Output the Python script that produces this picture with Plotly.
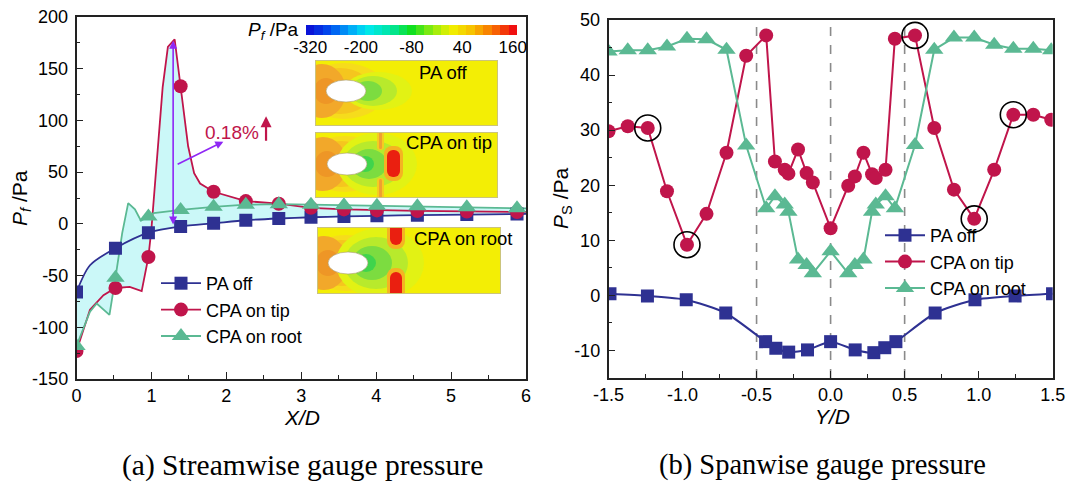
import base64
import numpy as np
import plotly.graph_objects as go

W, H = 1072, 487
FONT = "Liberation Sans, Arial, sans-serif"
SERIF = "Liberation Serif, Times New Roman, serif"

BLUE = "#2e3192"
RED = "#c0154b"
GREEN = "#5bb993"
FILL = "#cbf8f8"
PURPLE = "#8f27f5"

# ---------------- (a) streamwise data ----------------
stream_x = [0, 0.52, 0.96, 1.39, 1.83, 2.26, 2.70, 3.13, 3.57, 4.01, 4.55, 5.21, 5.88]
paoff_s = [-66, -23.5, -8.5, -2.5, 0.5, 3.5, 5.2, 6.4, 7.2, 7.8, 8.4, 9.0, 9.5]
tip_s = [-123, -62, -32, 133, 31, 22, 19.5, 15.5, 14, 13, 12.5, 12, 11.5]
root_s = [-118, -52, 7, 13.5, 16.5, 18.5, 19, 18.5, 18, 17.5, 17, 16, 15]

paoff_line_x = [0, 0.18, 0.52, 0.96, 1.39, 1.83, 2.26, 2.70, 3.13, 3.57, 4.01, 4.55, 5.21, 5.88, 6.0]
paoff_line_y = [-66, -40, -23.5, -8.5, -2.5, 0.5, 3.5, 5.2, 6.4, 7.2, 7.8, 8.4, 9.0, 9.5, 9.6]
tip_line_x = [0, 0.18, 0.36, 0.52, 0.71, 0.87, 0.96, 1.0, 1.15, 1.22, 1.31, 1.39, 1.49, 1.57,
              1.65, 1.83, 2.26, 2.70, 3.13, 3.57, 4.01, 4.55, 5.21, 5.88, 6.0]
tip_line_y = [-123, -83, -69, -62, -61, -65, -32, -5, 132, 171, 178.5, 133, 75, 49,
              39, 31, 22, 19.5, 15.5, 14, 13, 12.5, 12, 11.5, 11.5]
root_line_x = [0, 0.18, 0.27, 0.44, 0.52, 0.61, 0.69, 0.78, 0.86, 0.96, 1.03, 1.39, 1.83,
               2.26, 2.70, 3.13, 3.57, 4.01, 4.55, 5.21, 5.88, 6.0]
root_line_y = [-118, -85, -77, -88, -52, -9, 20, 14, 3, 7, 10.5, 13.5, 16.5,
               18.5, 19, 18.5, 18, 17.5, 17, 16, 15, 15]

# ---------------- (b) spanwise data ----------------
span_x = [-1.50, -1.37, -1.235, -1.105, -0.97, -0.838, -0.703, -0.57, -0.435, -0.376, -0.31,
          -0.285, -0.22, -0.162, -0.12, 0.0, 0.119, 0.164, 0.222, 0.28, 0.305, 0.371, 0.434,
          0.57, 0.70, 0.833, 0.97, 1.105, 1.234, 1.369, 1.49]
tip_span = [29.8, 30.7, 30.4, 18.9, 9.2, 14.8, 25.9, 43.5, 47.2, 24.3, 22.8,
            22.1, 26.5, 22.2, 20.5, 12.2, 19.9, 21.6, 25.9, 22.0, 21.3, 22.8, 46.6,
            47.2, 30.4, 19.2, 13.9, 22.8, 32.8, 32.8, 31.9]
root_span = [44.3, 44.5, 44.5, 45.2, 46.6, 46.5, 44.6, 27.2, 15.8, 18.0, 16.5,
             15.2, 6.5, 5.5, 4.0, 8.0, 4.0, 5.5, 6.5, 15.2, 16.5, 18.0, 15.8,
             27.3, 44.6, 46.8, 46.8, 45.5, 44.8, 44.8, 44.5]
span_x_off = [-1.49, -1.237, -0.975, -0.708, -0.439, -0.37, -0.283, -0.156, 0.0,
              0.166, 0.292, 0.366, 0.441, 0.706, 0.975, 1.246, 1.499]
paoff_span = [0.3, -0.1, -0.8, -3.2, -8.4, -9.6, -10.3, -9.9, -8.4,
              -9.9, -10.4, -9.5, -8.4, -3.2, -0.8, -0.1, 0.3]
circled_idx = [2, 4, 23, 26, 28]
divider_y = [-0.5, 0.0, 0.5]

# tick labels
xa_vals = [0, 1, 2, 3, 4, 5, 6]
xa_text = ["0", "1", "2", "3", "4", "5", "6"]
ya_vals = [-150, -100, -50, 0, 50, 100, 150, 200]
ya_text = ["-150", "-100", "-50", "0", "50", "100", "150", "200"]
xb_vals = [-1.5, -1.0, -0.5, 0.0, 0.5, 1.0, 1.5]
xb_text = ["-1.5", "-1.0", "-0.5", "0.0", "0.5", "1.0", "1.5"]
yb_vals = [-10, 0, 10, 20, 30, 40, 50]
yb_text = ["-10", "0", "10", "20", "30", "40", "50"]
cbar_levels = [-320, -300, -280, -260, -240, -220, -200, -180, -160, -140, -120, -100, -80,
               -60, -40, -20, 0, 20, 40, 60, 80, 100, 120, 140, 160]
cbar_ticks = [-320, -200, -80, 40, 160]
cbar_text = ["-320", "-200", "-80", "40", "160"]


def pxx(x):
    return x / W


def pyy(y):
    return 1 - y / H


fig = go.Figure()

# envelope fill (between max and min of the three curves)
grid = np.linspace(0, 6, 1201)
c1 = np.interp(grid, paoff_line_x, paoff_line_y)
c2 = np.interp(grid, tip_line_x, tip_line_y)
c3 = np.interp(grid, root_line_x, root_line_y)
upper = np.maximum(np.maximum(c1, c2), c3)
lower = np.minimum(np.minimum(c1, c2), c3)
fig.add_trace(go.Scatter(x=np.concatenate([grid, grid[::-1]]),
                         y=np.concatenate([upper, lower[::-1]]),
                         fill="toself", fillcolor=FILL, line=dict(width=0),
                         mode="lines", showlegend=False, hoverinfo="skip",
                         xaxis="x", yaxis="y"))

# lines (a)
fig.add_trace(go.Scatter(x=paoff_line_x, y=paoff_line_y, mode="lines",
                         line=dict(color=BLUE, width=1.8, shape="spline", smoothing=0.8),
                         showlegend=False, xaxis="x", yaxis="y"))
fig.add_trace(go.Scatter(x=tip_line_x, y=tip_line_y, mode="lines",
                         line=dict(color=RED, width=1.8), showlegend=False, xaxis="x", yaxis="y"))
fig.add_trace(go.Scatter(x=root_line_x, y=root_line_y, mode="lines",
                         line=dict(color=GREEN, width=1.8), showlegend=False, xaxis="x", yaxis="y"))
# markers (a)
fig.add_trace(go.Scatter(x=stream_x, y=paoff_s, mode="markers",
                         marker=dict(symbol="square", size=13, color=BLUE),
                         showlegend=False, xaxis="x", yaxis="y"))
fig.add_trace(go.Scatter(x=stream_x, y=tip_s, mode="markers",
                         marker=dict(symbol="circle", size=14, color=RED),
                         showlegend=False, xaxis="x", yaxis="y"))
fig.add_trace(go.Scatter(x=stream_x, y=root_s, mode="markers",
                         marker=dict(symbol="triangle-up", size=16, color=GREEN),
                         showlegend=False, xaxis="x", yaxis="y"))
# legend entries (a)
for name, col, sym, sz in [("PA off", BLUE, "square", 13), ("CPA on tip", RED, "circle", 14),
                           ("CPA on root", GREEN, "triangle-up", 16)]:
    fig.add_trace(go.Scatter(x=[None], y=[None], mode="lines+markers", name=name,
                             line=dict(color=col, width=1.8),
                             marker=dict(symbol=sym, size=sz, color=col),
                             legend="legend", xaxis="x", yaxis="y"))

# (b) traces
fig.add_trace(go.Scatter(x=span_x_off, y=paoff_span, mode="lines+markers", name="PA off",
                         line=dict(color=BLUE, width=2, shape="spline", smoothing=0.6),
                         marker=dict(symbol="square", size=13, color=BLUE),
                         legend="legend2", xaxis="x2", yaxis="y2"))
fig.add_trace(go.Scatter(x=span_x, y=tip_span, mode="lines+markers", name="CPA on tip",
                         line=dict(color=RED, width=2),
                         marker=dict(symbol="circle", size=14, color=RED),
                         legend="legend2", xaxis="x2", yaxis="y2"))
fig.add_trace(go.Scatter(x=span_x, y=root_span, mode="lines+markers", name="CPA on root",
                         line=dict(color=GREEN, width=2),
                         marker=dict(symbol="triangle-up", size=16, color=GREEN),
                         legend="legend2", xaxis="x2", yaxis="y2"))
fig.add_trace(go.Scatter(x=[span_x[i] for i in circled_idx], y=[tip_span[i] for i in circled_idx],
                         mode="markers", showlegend=False,
                         marker=dict(symbol="circle-open", size=26, color="black",
                                     line=dict(width=1.6, color="black")),
                         xaxis="x2", yaxis="y2"))

# colorbar strip
cs = [[0, "#0a14d8"], [0.1, "#0050f0"], [0.2, "#00a8f8"], [0.28, "#00e8f0"], [0.4, "#00e6a0"],
      [0.5, "#10e020"], [0.6, "#90ec10"], [0.7, "#f0f000"], [0.8, "#f8c000"], [0.9, "#f87000"],
      [1, "#f01010"]]
fig.add_trace(go.Heatmap(z=[cbar_levels], x=cbar_levels, y=[0], colorscale=cs, zmin=-320, zmax=160,
                         showscale=False, hoverinfo="skip", xaxis="x3", yaxis="y3"))

axis_common = dict(showline=True, mirror=True, linecolor="#222", linewidth=1.5, ticks="inside",
                   ticklen=7, tickwidth=1.3, tickcolor="#222", showgrid=False, zeroline=False,
                   tickfont=dict(family=FONT, size=18, color="black"), automargin=False)

fig.update_layout(
    width=W, height=H, margin=dict(l=0, r=0, t=0, b=0),
    paper_bgcolor="white", plot_bgcolor="rgba(0,0,0,0)",
    font=dict(family=FONT, color="black"),
    xaxis=dict(domain=[pxx(76.5), pxx(526)], range=[0, 6], tickvals=xa_vals, ticktext=xa_text,
               minor=dict(dtick=0.5, ticks="inside", ticklen=4, tickcolor="#222"), anchor="y",
               **axis_common),
    yaxis=dict(domain=[pyy(379), pyy(17)], range=[-150, 200], tickvals=ya_vals, ticktext=ya_text,
               minor=dict(dtick=25, ticks="inside", ticklen=4, tickcolor="#222"), anchor="x",
               ticklabelstandoff=3, **axis_common),
    xaxis2=dict(domain=[pxx(608.5), pxx(1052.7)], range=[-1.5, 1.5], tickvals=xb_vals,
                ticktext=xb_text, minor=dict(dtick=0.25, ticks="inside", ticklen=4, tickcolor="#222"),
                anchor="y2", **axis_common),
    yaxis2=dict(domain=[pyy(378), pyy(20)], range=[-15, 50], tickvals=yb_vals, ticktext=yb_text,
                minor=dict(dtick=5, ticks="inside", ticklen=4, tickcolor="#222"), anchor="x2",
                ticklabelstandoff=3, **axis_common),
    xaxis3=dict(domain=[pxx(306), pxx(517)], range=[-330, 170], anchor="y3", tickvals=cbar_ticks,
                ticktext=cbar_text, ticks="", showline=False, showgrid=False, zeroline=False,
                tickfont=dict(family=FONT, size=17, color="black"), automargin=False),
    yaxis3=dict(domain=[pyy(35), pyy(25)], anchor="x3", visible=False, range=[-0.5, 0.5]),
    legend=dict(x=pxx(156), y=pyy(265), xanchor="left", yanchor="top", bgcolor="rgba(0,0,0,0)",
                font=dict(family=FONT, size=18, color="black"), tracegroupgap=0, itemwidth=40),
    legend2=dict(x=pxx(880), y=pyy(217), xanchor="left", yanchor="top", bgcolor="rgba(0,0,0,0)",
                 font=dict(family=FONT, size=18, color="black"), tracegroupgap=0, itemwidth=40),
)

# dashed dividers (b)
for xv in divider_y:
    fig.add_shape(type="line", xref="x2", yref="y2 domain", x0=xv, x1=xv, y0=0, y1=1,
                  line=dict(color="#8a8a8a", width=1.6, dash="dash"), layer="below")


# ---------------- contour insets (decorative SVG pictures) ----------------
def ell(cx, cy, rx, ry, col, extra=""):
    return f'<ellipse cx="{cx}" cy="{cy}" rx="{rx}" ry="{ry}" fill="{col}" {extra}/>'


def rrect(x0, y0, x1, y1, r, col):
    return f'<rect x="{x0}" y="{y0}" width="{x1 - x0}" height="{y1 - y0}" rx="{r}" fill="{col}"/>'


def inset_svg(w, h, ex, ey, kind):
    el = [f'<rect x="0" y="0" width="{w}" height="{h}" fill="#f3ee05"/>']
    el.append(ell(ex - 2, ey, 42, 28, "#f6dc1c"))
    el.append(ell(ex - 6, ey, 32, 23, "#f5c61e"))
    el.append(ell(ex - 24, ey, 24, 27, "#f2a82a"))
    el.append(ell(ex - 20, ey, 12, 13, "#ee9626"))
    if kind == "off":
        el.append(ell(ex + 32, ey, 34, 19, "#e2f214"))
        el.append(ell(ex + 27, ey, 24, 15, "#b8ea2c"))
        el.append(ell(ex + 22, ey, 14, 10, "#7cdc40"))
    elif kind == "tip":
        el.append(ell(ex + 30, ey, 40, 31, "#e2f214"))
        el.append(ell(ex + 26, ey, 30, 23, "#b8ea2c"))
        el.append(ell(ex + 22, ey, 18, 15, "#7cdc40"))
        el.append(ell(ex + 18, ey, 9, 8, "#40d44c"))
        el.append(rrect(ex + 30, -2, ex + 37, ey - 14, 3, "#f6cc20"))
        el.append(rrect(ex + 30, ey + 14, ex + 37, h + 2, 3, "#f6cc20"))
        el.append(rrect(ex + 32, -2, ex + 35, ey - 15, 1.5, "#f0a030"))
        el.append(rrect(ex + 32, ey + 15, ex + 35, h + 2, 1.5, "#f0a030"))
        el.append(rrect(ex + 37, ey - 18, ex + 56, ey + 17, 8, "#f4b422"))
        el.append(rrect(ex + 40, ey - 14, ex + 53, ey + 13, 6, "#ea1f10"))
    else:
        el.append(ell(ex + 32, ey, 44, 35, "#e2f214"))
        el.append(ell(ex + 28, ey, 32, 26, "#b8ea2c"))
        el.append(ell(ex + 24, ey, 20, 17, "#7cdc40"))
        el.append(ell(ex + 18, ey, 10, 9, "#40d44c"))
        el.append(rrect(ex + 39, -8, ex + 57, 22, 8, "#f4b422"))
        el.append(rrect(ex + 42, -6, ex + 54, 18, 6, "#ea1f10"))
        el.append(rrect(ex + 39, 41, ex + 57, h + 8, 8, "#f4b422"))
        el.append(rrect(ex + 42, 45, ex + 54, h + 6, 6, "#ea1f10"))
    el.append(ell(ex, ey, 20, 11, "white", 'stroke="#a89868" stroke-width="0.6"'))
    el.append(f'<rect x="0.5" y="0.5" width="{w - 1}" height="{h - 1}" fill="none" '
              f'stroke="#cbc47c" stroke-width="1"/>')
    svg = (f'<svg xmlns="http://www.w3.org/2000/svg" width="{w}" height="{h}" '
           f'viewBox="0 0 {w} {h}" preserveAspectRatio="none">' + "".join(el) + "</svg>")
    return "data:image/svg+xml;base64," + base64.b64encode(svg.encode()).decode()


panels = [((315, 60, 498, 126), (346, 91), "off"),
          ((315, 132, 498, 198), (347, 164), "tip"),
          ((317, 227, 501, 294), (348, 263), "root")]
images = []
for (x0, y0, x1, y1), (cx, cy), kind in panels:
    src = inset_svg(x1 - x0, y1 - y0, cx - x0, cy - y0, kind)
    images.append(dict(source=src, xref="paper", yref="paper", x=pxx(x0), y=pyy(y0),
                       sizex=(x1 - x0) / W, sizey=(y1 - y0) / H, xanchor="left", yanchor="top",
                       sizing="stretch", layer="above"))
fig.update_layout(images=images)

# ---------------- annotations ----------------
ann = []


def text(x, y, s, size=18, color="black", family=FONT, angle=0, xanchor="center"):
    ann.append(dict(x=pxx(x), y=pyy(y), xref="paper", yref="paper", text=s, showarrow=False,
                    font=dict(family=family, size=size, color=color), textangle=angle,
                    xanchor=xanchor, yanchor="middle"))


text(443, 73, "PA off", size=18.5)
text(449, 143, "CPA on tip", size=18.5)
text(463, 238, "CPA on root", size=18.5)
text(273, 31, "<i>P</i><sub><i>f</i></sub> /Pa", size=19)
text(21, 198, "<i>P</i><sub><i>f</i></sub> /Pa", size=21, angle=-90)
text(302, 417, "<i>X/D</i>", size=21)
text(562, 199, "<i>P</i><sub>S</sub> /Pa", size=21, angle=-90)
text(832, 416, "<i>Y/D</i>", size=21)
text(302, 465, "(a) Streamwise gauge pressure", size=29.5, family=SERIF)
text(822, 465, "(b) Spanwise gauge pressure", size=28.5, family=SERIF)

# purple arrows and percentage marker (data coordinates)
ann.append(dict(x=1.29, y=177, ax=1.29, ay=-2, xref="x", yref="y", axref="x", ayref="y",
                text="", showarrow=True, arrowhead=2, arrowside="end+start", arrowsize=1,
                arrowwidth=1.6, arrowcolor=PURPLE, standoff=0, startstandoff=0))
ann.append(dict(x=1.96, y=79.5, ax=1.33, ay=57, xref="x", yref="y", axref="x", ayref="y",
                text="", showarrow=True, arrowhead=2, arrowsize=1, arrowwidth=1.6,
                arrowcolor=PURPLE, standoff=0))
ann.append(dict(x=2.07, y=88, xref="x", yref="y", text="0.18%", showarrow=False,
                font=dict(family=FONT, size=19, color=RED)))
ann.append(dict(x=2.53, y=104, ax=2.53, ay=79, xref="x", yref="y", axref="x", ayref="y",
                text="", showarrow=True, arrowhead=2, arrowsize=1, arrowwidth=2.2,
                arrowcolor=RED, standoff=0))
fig.update_layout(annotations=ann)

fig.write_html("out.html")
